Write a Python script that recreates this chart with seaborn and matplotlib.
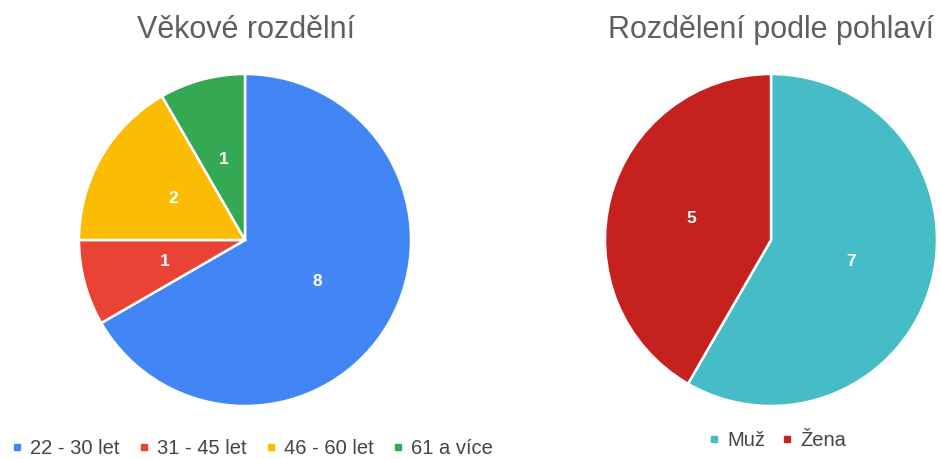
import matplotlib
matplotlib.use("Agg")
import matplotlib.pyplot as plt
from matplotlib.lines import Line2D
import seaborn as sns

sns.set_theme(style="white")
plt.rcParams['font.family'] = ['Liberation Sans', 'DejaVu Sans']

age_labels = ["22 - 30 let", "31 - 45 let", "46 - 60 let", "61 a více"]
age_values = [8, 1, 2, 1]
age_colors = ["#4285F4", "#EA4335", "#FBBC04", "#34A853"]

sex_labels = ["Muž", "Žena"]
sex_values = [7, 5]
sex_colors = ["#46BDC6", "#C5221F"]

title_left = "Věkové rozdělní"
title_right = "Rozdělení podle pohlaví"

W, H = 941, 459
fig = plt.figure(figsize=(W / 100, H / 100), dpi=100)
fig.patch.set_facecolor("white")

R = 166

def pie_axes(cx, cy):
    return fig.add_axes([(cx - R) / W, (H - cy - R) / H, 2 * R / W, 2 * R / H])

def draw_pie(ax, values, colors):
    wedges, texts = ax.pie(values, colors=colors, startangle=90, counterclock=False,
                           labels=[str(v) for v in values], labeldistance=0.5,
                           wedgeprops=dict(edgecolor="white", linewidth=1.8),
                           textprops=dict(color="white", fontsize=12.5, fontweight="bold"))
    for t in texts:
        t.set_ha("center")
        t.set_va("center")
    ax.set_aspect("equal")
    ax.set_xlim(-1, 1)
    ax.set_ylim(-1, 1)
    ax.axis("off")
    return wedges

axL = pie_axes(245, 240)
draw_pie(axL, age_values, age_colors)
axR = pie_axes(771, 240)
draw_pie(axR, sex_values, sex_colors)

fig.text(246 / W, 1 - 30 / H, title_left, ha="center", va="center", fontsize=22, color="#5f5f5f")
fig.text(771 / W, 1 - 30 / H, title_right, ha="center", va="center", fontsize=22, color="#5f5f5f")

def make_handles(colors):
    return [Line2D([0], [0], marker="s", linestyle="none", markersize=5,
                   markerfacecolor=c, markeredgecolor=c) for c in colors]

legL = fig.legend(make_handles(age_colors), age_labels, loc="center",
                  bbox_to_anchor=(252 / W, 1 - 449 / H), ncol=4, frameon=False,
                  fontsize=14.5, handlelength=0.6, handletextpad=0.35, columnspacing=0.9,
                  labelcolor="#444444")
legR = fig.legend(make_handles(sex_colors), sex_labels, loc="center",
                  bbox_to_anchor=(777 / W, 1 - 441 / H), ncol=2, frameon=False,
                  fontsize=14.5, handlelength=0.6, handletextpad=0.35, columnspacing=0.8,
                  labelcolor="#444444")

fig.savefig("out.png", dpi=100, facecolor="white")
